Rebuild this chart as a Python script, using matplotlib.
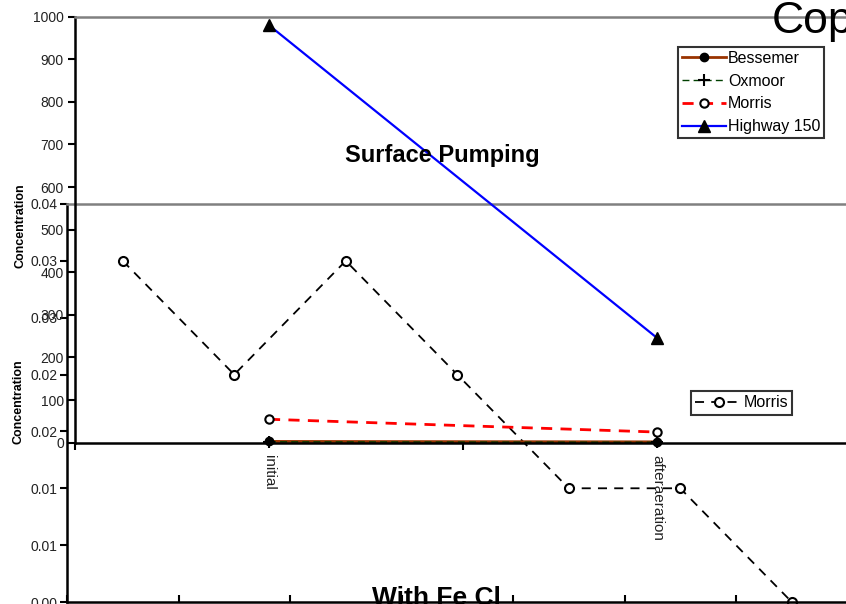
import matplotlib
matplotlib.use("Agg")
import matplotlib.pyplot as plt

plt.rcParams['font.family'] = ['Liberation Sans', 'DejaVu Sans']

# Surface pumping series (top panel)
stages = ['initial', 'afteraeration']
bessemer = [3, 2]
oxmoor = [2, 1]
morris = [55, 25]
highway150 = [980, 246]
top_yticks = [0, 100, 200, 300, 400, 500, 600, 700, 800, 900, 1000]

# With FeCl series (lower panel)
fecl_samples = [1, 2, 3, 4, 5, 6, 7]
morris_fecl = [0.030, 0.020, 0.030, 0.020, 0.010, 0.010, 0.000]
fecl_yticks = [0.000, 0.005, 0.010, 0.015, 0.020, 0.025, 0.030, 0.035]
fecl_yticklabels = ['0.00', '0.01', '0.01', '0.02', '0.02', '0.03', '0.03', '0.04']

W, H = 846, 604
fig = plt.figure(figsize=(W / 100, H / 100), dpi=100)
fig.patch.set_facecolor('white')


def rect(left, top, right, bottom):
    return [left / W, 1 - bottom / H, (right - left) / W, (bottom - top) / H]


def fx(px):
    return px / W


def fy(py):
    return 1 - py / H


# ---------------- lower panel: With Fe Cl ----------------
ax2 = fig.add_axes(rect(67, 204, 847.5, 602))
ax2.set_facecolor('none')
xs2 = [i + 0.5 for i in range(len(fecl_samples))]
ax2.plot(xs2, morris_fecl, color='black', linestyle=(0, (5, 4)), linewidth=1.3,
         marker='o', markersize=6.5, markerfacecolor='white', markeredgecolor='black',
         markeredgewidth=1.5, clip_on=False, label='Morris')
ax2.set_xlim(0, len(fecl_samples))
ax2.set_ylim(0, 0.035)
ax2.set_yticks(fecl_yticks)
ax2.set_yticklabels(fecl_yticklabels)
ax2.set_xticks(range(len(fecl_samples) + 1))
ax2.set_xticklabels([])
ax2.tick_params(axis='y', direction='out', length=5, width=1.5, pad=2,
                labelsize=10, labelcolor='#222222')
ax2.tick_params(axis='x', direction='in', length=5, width=1.5)
for s in ['left', 'bottom']:
    ax2.spines[s].set_linewidth(1.8)
ax2.spines['top'].set_color('#808080')
ax2.spines['top'].set_linewidth(1.8)
ax2.spines['right'].set_visible(False)
leg2 = ax2.legend(loc='upper left', bbox_to_anchor=(fx(691), fy(391)),
                  bbox_transform=fig.transFigure, fontsize=11.5, frameon=True,
                  fancybox=False, edgecolor='black', handlelength=2.9,
                  handletextpad=0.1, borderpad=0.28, borderaxespad=0, numpoints=1)
leg2.get_frame().set_linewidth(1.5)

# ---------------- top panel: Surface Pumping ----------------
ax1 = fig.add_axes(rect(75, 16.7, 851, 442.7))
ax1.set_facecolor('none')
xs1 = [i + 0.5 for i in range(len(stages))]
ax1.plot(xs1, bessemer, color='#993300', linewidth=2, marker='o', markersize=6,
         markerfacecolor='black', markeredgecolor='black', label='Bessemer', clip_on=False)
ax1.plot(xs1, oxmoor, color='#004000', linewidth=1, linestyle=(0, (5, 3)), marker='+',
         markersize=9, markeredgecolor='black', markeredgewidth=1.5, label='Oxmoor', clip_on=False)
ax1.plot(xs1, morris, color='#FF0000', linewidth=2, linestyle=(0, (4, 3)), marker='o',
         markersize=6, markerfacecolor='white', markeredgecolor='black', markeredgewidth=1.5,
         label='Morris', clip_on=False)
ax1.plot(xs1, highway150, color='#0000FF', linewidth=1.6, marker='^', markersize=8,
         markerfacecolor='black', markeredgecolor='black', label='Highway 150', clip_on=False)
ax1.set_xlim(0, len(stages))
ax1.set_ylim(0, 1000)
ax1.set_yticks(top_yticks)
ax1.set_yticklabels([str(v) for v in top_yticks])
ax1.set_xticks(range(len(stages) + 1))
ax1.set_xticklabels([])
ax1.set_xticks(xs1, minor=True)
ax1.set_xticklabels(stages, minor=True, rotation=-90, fontsize=11, color='#222222')
ax1.tick_params(axis='x', which='minor', length=0, pad=9)
ax1.tick_params(axis='x', which='major', direction='out', length=5, width=1.5)
ax1.tick_params(axis='y', direction='out', length=5, width=1.5, pad=3,
                labelsize=10, labelcolor='#222222')
for s in ['left', 'bottom']:
    ax1.spines[s].set_linewidth(1.8)
ax1.spines['top'].set_color('#808080')
ax1.spines['top'].set_linewidth(1.8)
ax1.spines['right'].set_visible(False)
leg1 = ax1.legend(loc='upper left', bbox_to_anchor=(fx(678), fy(47)),
                  bbox_transform=fig.transFigure, fontsize=11.5, frameon=True,
                  fancybox=False, edgecolor='black', handlelength=2.8,
                  handletextpad=0.1, borderpad=0.22, labelspacing=0.5,
                  borderaxespad=0, numpoints=1)
leg1.get_frame().set_linewidth(1.5)

# ---------------- titles and axis captions ----------------
fig.text(fx(772), fy(33), 'Copper', fontsize=32, ha='left', va='baseline')
fig.text(fx(345), fy(162), 'Surface Pumping', fontsize=17, fontweight='bold',
         ha='left', va='baseline')
fig.text(fx(372), fy(605), 'With Fe Cl', fontsize=19, fontweight='bold',
         ha='left', va='baseline')
fig.text(fx(20), fy(226), 'Concentration', fontsize=9, fontweight='bold',
         rotation=90, ha='center', va='center')
fig.text(fx(18), fy(402), 'Concentration', fontsize=9, fontweight='bold',
         rotation=90, ha='center', va='center')

fig.savefig('out.png', dpi=100)
